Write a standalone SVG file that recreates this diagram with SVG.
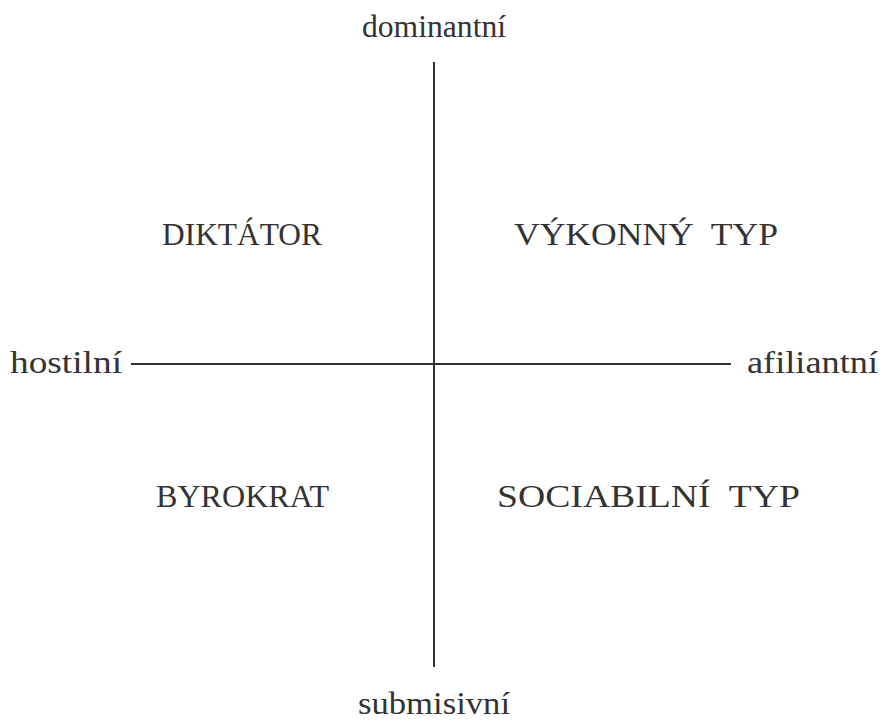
<svg xmlns="http://www.w3.org/2000/svg" width="882" height="722" viewBox="0 0 882 722">
<style>
text{font-family:"Liberation Serif","Times New Roman",serif;font-size:32px;fill:#333;white-space:pre}
.ax{stroke:#333;stroke-width:2;fill:none}
</style>
<rect width="882" height="722" fill="#fff"/>
<g id="connectors">
<line class="ax" x1="434" y1="62" x2="434" y2="667"/>
<line class="ax" x1="131" y1="364" x2="731" y2="364"/>
</g>
<g id="dominantni"><text x="362" y="37" textLength="144" lengthAdjust="spacingAndGlyphs">dominantní</text></g>
<g id="submisivni"><text x="358" y="714" textLength="152" lengthAdjust="spacingAndGlyphs">submisivní</text></g>
<g id="hostilni"><text x="10" y="373" textLength="112" lengthAdjust="spacingAndGlyphs">hostilní</text></g>
<g id="afiliantni"><text x="747" y="373" textLength="131" lengthAdjust="spacingAndGlyphs">afiliantní</text></g>
<g id="diktator"><text x="162" y="245" textLength="160" lengthAdjust="spacingAndGlyphs">DIKTÁTOR</text></g>
<g id="vykonny"><text x="514" y="245" xml:space="preserve" textLength="264" lengthAdjust="spacingAndGlyphs">VÝKONNÝ  TYP</text></g>
<g id="byrokrat"><text x="156" y="507" textLength="173" lengthAdjust="spacingAndGlyphs">BYROKRAT</text></g>
<g id="sociabilni"><text x="497" y="507" xml:space="preserve" textLength="303" lengthAdjust="spacingAndGlyphs">SOCIABILNÍ  TYP</text></g>
</svg>
